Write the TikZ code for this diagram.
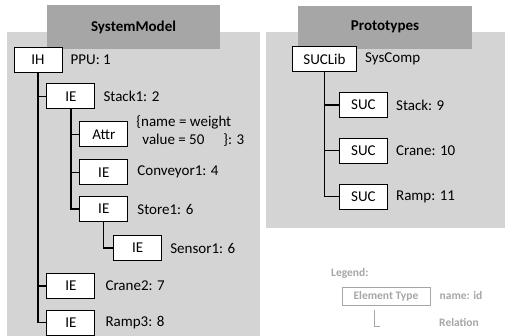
\documentclass[tikz,border=0pt]{standalone}
\usepackage{fontspec}
\setmainfont{Carlito}
\usepackage{tikz}
\usetikzlibrary{positioning}
\definecolor{panelgray}{HTML}{D4D4D4}
\definecolor{headgray}{HTML}{A6A6A6}
\definecolor{leggray}{HTML}{A6A6A6}
\tikzset{
  elem/.style={rectangle,draw=black,line width=0.9pt,fill=white,minimum width=48pt,
    minimum height=25pt,inner xsep=11pt,font=\fontsize{15}{18}\selectfont},
  idlabel/.style={inner sep=0pt,align=left,font=\fontsize{15}{18}\selectfont},
  title/.style={font=\fontsize{15}{18}\selectfont\bfseries},
  rel/.style={draw=black,line width=1.3pt},
  legtext/.style={inner sep=0pt,anchor=west,text=leggray,font=\fontsize{11.5}{14}\selectfont\bfseries},
  legbox/.style={draw=leggray,line width=0.9pt,minimum width=88pt,minimum height=18pt,
    inner sep=0pt,text=leggray,font=\fontsize{11.5}{14}\selectfont\bfseries},
  legline/.style={draw=leggray,line width=0.9pt}
}

\begin{document}
\begin{tikzpicture}[x=1pt,y=-1pt]
\useasboundingbox (0,0) rectangle (505,336);
% panels
\fill[panelgray] (7,32) rectangle (260,336);
\fill[panelgray] (266,32) rectangle (505,228);
\fill[headgray] (47,5) rectangle (220,49);
\fill[headgray] (298,6) rectangle (472,49);
\node[title] (smtitle) at (133.5,27) {SystemModel};
\node[title] (prtitle) at (385,27) {Prototypes};
% system model tree
\node[elem] (ih) at (38,59.5) {IH};
\node[elem,below right=11pt and -16pt of ih] (stack) {IE};
\node[elem,below right=12pt and -16pt of stack] (attr) {Attr};
\node[elem,below=12pt of attr] (conv) {IE};
\node[elem,below=11pt of conv] (store) {IE};
\node[elem,below right=13pt and -15pt of store] (sensor) {IE};
\coordinate (cranetop) at (sensor.south -| stack.south);
\node[elem,below=12pt of cranetop] (crane) {IE};
\node[elem,below=11pt of crane] (ramp) {IE};
\node[idlabel,right=8pt of ih] (ihlbl) {PPU: 1};
\node[idlabel,right=8pt of stack] (stacklbl) {Stack1: 2};
\node[idlabel,right=8pt of attr,yshift=3pt] (attrlbl) {\{name = weight\\\hspace*{6pt}value = 50\hspace*{19pt}\}: 3};
\node[idlabel,right=9pt of conv] (convlbl) {Conveyor1: 4};
\node[idlabel,right=9pt of store] (storelbl) {Store1: 6};
\node[idlabel,right=8pt of sensor] (sensorlbl) {Sensor1: 6};
\node[idlabel,right=10pt of crane] (cranelbl) {Crane2: 7};
\node[idlabel,right=10pt of ramp] (ramplbl) {Ramp3: 8};
\draw[rel] (ih.south) |- (stack.west); \draw[rel] (ih.south) |- (crane.west); \draw[rel] (ih.south) |- (ramp.west);
\draw[rel] (stack.south) |- (attr.west); \draw[rel] (stack.south) |- (conv.west); \draw[rel] (stack.south) |- (store.west);
\draw[rel] (store.south) |- (sensor.west);
% prototypes tree
\node[elem] (suclib) at (324.5,59) {SUCLib};
\node[elem,below right=20pt and -18pt of suclib] (sucstack) {SUC};
\node[elem,below=20pt of sucstack] (succrane) {SUC};
\node[elem,below=20pt of succrane] (sucramp) {SUC};
\node[idlabel,right=8pt of suclib] (suclibl) {SysComp};
\node[idlabel,right=8pt of sucstack] (sucstacklbl) {Stack: 9};
\node[idlabel,right=8pt of succrane] (sucranelbl) {Crane: 10};
\node[idlabel,right=8pt of sucramp] (sucramplbl) {Ramp: 11};
\draw[rel] (suclib.south) |- (sucstack.west); \draw[rel] (suclib.south) |- (succrane.west); \draw[rel] (suclib.south) |- (sucramp.west);
% legend
\node[legtext] (legend) at (331,273) {Legend:};
\node[legbox] (legbox) at (386,296) {Element Type};
\node[legtext,right=9pt of legbox] (legname) {name: id};
\node[legtext] (legrel) at (439,322) {Relation};
\coordinate[below left=5pt and 12pt of legbox.south] (reltop);
\draw[legline] (reltop) |- ++(6pt,-16pt);
\end{tikzpicture}
\end{document}
